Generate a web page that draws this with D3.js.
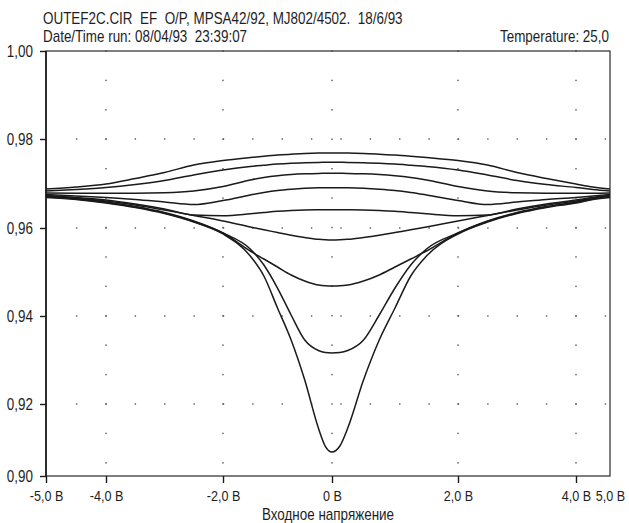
<!DOCTYPE html>
<html><head><meta charset="utf-8">
<script src="https://cdn.jsdelivr.net/npm/d3@7"></script>
<style>
body{margin:0;background:#fff}
svg text{font-family:"Liberation Sans",Arial,sans-serif;font-size:16px;fill:#1e1e1e;white-space:pre}
svg g.tick text{font-size:15px}
</style>
</head><body>
<svg id="chart" width="629" height="523"></svg>
<script>
// ---- data ----
const voltage = [-5,-4.5,-4,-3.5,-3,-2.5,-2,-1.5,-1.25,-1,-0.75,-0.5,-0.25,-0.125,0,0.125,0.25,0.5,0.75,1,1.25,1.5,2,2.5,3,3.5,4,4.5,5];
const gain1 = [0.96876,0.96921,0.96989,0.97112,0.97247,0.97416,0.97517,0.97584,0.97614,0.97640,0.97658,0.97674,0.97683,0.97684,0.97685,0.97684,0.97683,0.97674,0.97658,0.97640,0.97614,0.97584,0.97517,0.97416,0.97247,0.97112,0.96989,0.96921,0.96876];
const gain2 = [0.96832,0.96865,0.96910,0.96978,0.97067,0.97191,0.97303,0.97382,0.97411,0.97438,0.97456,0.97467,0.97474,0.97475,0.97476,0.97475,0.97474,0.97467,0.97456,0.97438,0.97411,0.97382,0.97303,0.97191,0.97067,0.96978,0.96910,0.96865,0.96832];
const gain3 = [0.96787,0.96782,0.96780,0.96780,0.96791,0.96832,0.96933,0.97079,0.97135,0.97175,0.97202,0.97218,0.97227,0.97228,0.97229,0.97228,0.97227,0.97218,0.97202,0.97175,0.97135,0.97079,0.96933,0.96832,0.96791,0.96780,0.96780,0.96782,0.96787];
const gain4 = [0.96753,0.96719,0.96685,0.96641,0.96584,0.96528,0.96618,0.96742,0.96798,0.96843,0.96872,0.96892,0.96903,0.96905,0.96906,0.96905,0.96903,0.96892,0.96872,0.96843,0.96798,0.96742,0.96618,0.96528,0.96584,0.96641,0.96685,0.96719,0.96753];
const gain5 = [0.96730,0.96685,0.96629,0.96539,0.96427,0.96292,0.96274,0.96319,0.96348,0.96375,0.96393,0.96405,0.96409,0.96410,0.96411,0.96410,0.96409,0.96405,0.96393,0.96375,0.96348,0.96319,0.96274,0.96292,0.96427,0.96539,0.96629,0.96685,0.96730];
const gain6 = [0.96719,0.96674,0.96607,0.96517,0.96405,0.96281,0.96157,0.96023,0.95959,0.95898,0.95836,0.95784,0.95743,0.95732,0.95727,0.95732,0.95743,0.95784,0.95836,0.95898,0.95959,0.96023,0.96157,0.96281,0.96405,0.96517,0.96607,0.96674,0.96719];
const gain7 = [0.96708,0.96663,0.96584,0.96483,0.96348,0.96157,0.95886,0.95477,0.95295,0.95114,0.94932,0.94795,0.94704,0.94686,0.94682,0.94686,0.94704,0.94795,0.94932,0.95114,0.95295,0.95477,0.95886,0.96157,0.96348,0.96483,0.96584,0.96663,0.96708];
const gain8 = [0.96697,0.96652,0.96573,0.96472,0.96337,0.96146,0.95886,0.95523,0.95159,0.94636,0.94023,0.93455,0.93216,0.93170,0.93159,0.93170,0.93216,0.93455,0.94023,0.94636,0.95159,0.95523,0.95886,0.96146,0.96337,0.96472,0.96573,0.96652,0.96697];
const gain9 = [0.96686,0.96641,0.96562,0.96461,0.96326,0.96135,0.95864,0.95364,0.94909,0.94182,0.93455,0.92545,0.91333,0.90833,0.90667,0.90833,0.91333,0.92545,0.93455,0.94182,0.94909,0.95364,0.95864,0.96135,0.96326,0.96461,0.96562,0.96641,0.96686];

const xTickValues = [-5,-4,-2,0,2,4,5];
const xTickLabels = ["-5,0 В","-4,0 В","-2,0 В","0 В","2,0 В","4,0 В","5,0 В"];
const yTickValues = [0.90,0.92,0.94,0.96,0.98,1.00];
const yTickLabels = ["0,90","0,92","0,94","0,96","0,98","1,00"];
const gridColumns = [-4,-2,0,2,4];
const titleLine1 = "OUTEF2C.CIR  EF  O/P, MPSA42/92, MJ802/4502.  18/6/93";
const titleLine2 = "Date/Time run: 08/04/93  23:39:07";
const tempText = "Temperature: 25,0";
const xTitle = "Входное напряжение";

// ---- drawing ----
const NARROW = 0.84; // condensed face emulation
const svg = d3.select("#chart");
const x = d3.scaleLinear().domain(xTickValues).range([46,106,223,332,458,576,610]);
const y = d3.scaleLinear().domain(yTickValues).range([476,404,316,228,139,51]);
const gx = d3.scaleLinear().domain([-4,4]).range([x(-4), x(4)]);
const gy = d3.scaleLinear().domain([0.92,1.0]).range([y(0.92), y(1.0)]);

// grid dots
const dots = [];
yTickValues.slice(1,-1).forEach(v => {
  d3.range(-4.5, 4.51, 0.5).forEach(u => dots.push([gx(u), y(v)]));
});
gridColumns.forEach(u => {
  d3.range(0, 15).forEach(k => dots.push([x(u), gy(1.0 - k*0.02/3)]));
});
svg.append("g").selectAll("rect").data(dots).join("rect")
  .attr("x", d => d[0]-0.7).attr("y", d => d[1]-0.7)
  .attr("width", 1.4).attr("height", 1.4).attr("fill", "#555");

// frame
svg.append("rect")
  .attr("x", x(-5)).attr("y", y(1.0))
  .attr("width", x(5)-x(-5)).attr("height", y(0.90)-y(1.0))
  .attr("fill", "none").attr("stroke", "#2a2a2a").attr("stroke-width", 1.2);
svg.append("line").attr("x1", x(-5)).attr("x2", x(-5)).attr("y1", y(1.0)).attr("y2", y(0.90))
  .attr("stroke", "#1a1a1a").attr("stroke-width", 1.6);

// axes
const yAxis = svg.append("g").attr("transform", `translate(${x(-5)},0)`)
  .call(d3.axisLeft(y).tickValues(yTickValues).tickFormat((d,i)=>yTickLabels[i]).tickSize(6).tickPadding(7).tickSizeOuter(0));
const xAxis = svg.append("g").attr("transform", `translate(0,${y(0.90)})`)
  .call(d3.axisBottom(x).tickValues(xTickValues).tickFormat((d,i)=>xTickLabels[i]).tickSize(7).tickPadding(7).tickSizeOuter(0));
[yAxis, xAxis].forEach(a => {
  a.attr("font-family", null).attr("font-size", null);
  a.select(".domain").remove();
  a.selectAll("line").attr("stroke", "#1a1a1a").attr("stroke-width", 1.4);
  a.selectAll("text").style("fill", "#1e1e1e");
});
yAxis.selectAll("text").style("font-size", "16px").attr("x", -13/NARROW).attr("transform", `scale(${NARROW},1)`);
xAxis.selectAll("text").attr("transform", `scale(${NARROW},1)`);
xAxis.selectAll(".tick").filter(d => d === 5).select("line").remove();

// curves
const series = [gain1,gain2,gain3,gain4,gain5,gain6,gain7,gain8,gain9];
const line = d3.line().x((d,i)=>x(voltage[i])).y(d=>y(d)).curve(d3.curveMonotoneX);
svg.append("g").selectAll("path").data(series).join("path")
  .attr("d", line).attr("fill","none").attr("stroke","#1a1a1a").attr("stroke-width",1.5);

// texts
function label(px, py, str, anchor) {
  svg.append("g").attr("transform", `translate(${px},${py}) scale(${NARROW},1)`)
    .append("text").attr("text-anchor", anchor || "start").text(str);
}
label(43, 24, titleLine1);
label(43, 42, titleLine2);
label(609, 42, tempText, "end");
label(328, 520, xTitle, "middle");
</script>
</body></html>
